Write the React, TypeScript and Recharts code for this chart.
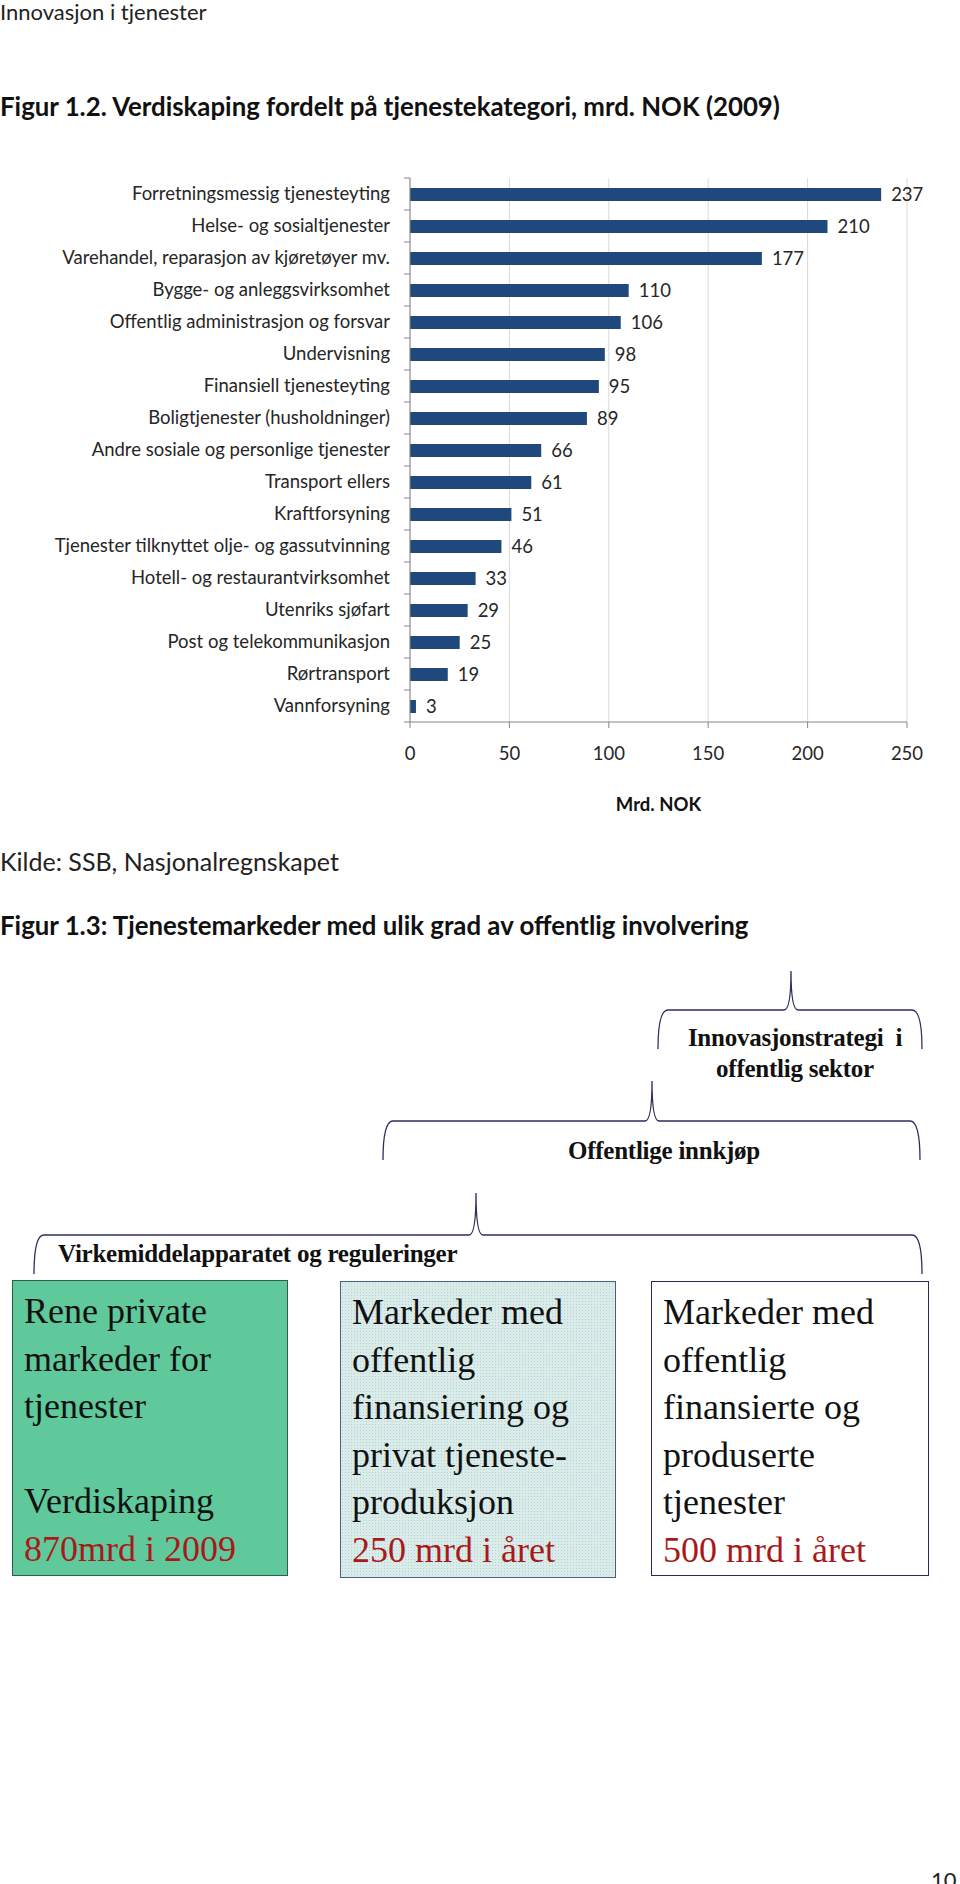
import React from "react";
import { Bar, BarChart, CartesianGrid, LabelList, XAxis, YAxis } from "recharts";

const categories = [
  "Forretningsmessig tjenesteyting",
  "Helse- og sosialtjenester",
  "Varehandel, reparasjon av kjøretøyer mv.",
  "Bygge- og anleggsvirksomhet",
  "Offentlig administrasjon og forsvar",
  "Undervisning",
  "Finansiell tjenesteyting",
  "Boligtjenester (husholdninger)",
  "Andre sosiale og personlige tjenester",
  "Transport ellers",
  "Kraftforsyning",
  "Tjenester tilknyttet olje- og gassutvinning",
  "Hotell- og restaurantvirksomhet",
  "Utenriks sjøfart",
  "Post og telekommunikasjon",
  "Rørtransport",
  "Vannforsyning",
];

const values = [237, 210, 177, 110, 106, 98, 95, 89, 66, 61, 51, 46, 33, 29, 25, 19, 3];

const xTicks = [0, 50, 100, 150, 200, 250];

const data = categories.map((name, i) => ({ name, value: values[i] }));

const sans = "Lato, 'Open Sans', sans-serif";
const serif = "'Liberation Serif', 'DejaVu Serif', serif";
const braceColor = "#2b2e5e";
const red = "#a81a1a";
const chartFont = 18.5;

function CategoryTick(props: any) {
  const { x, y, payload, index } = props;
  const half = payload && payload.offset ? payload.offset : 16;
  return (
    <g>
      <line x1={x - 6} x2={x} y1={y - half} y2={y - half} stroke="#868686" />
      {index === categories.length - 1 && (
        <line x1={x - 6} x2={x} y1={y + half} y2={y + half} stroke="#868686" />
      )}
      <text x={x - 20} y={y} dy="0.35em" textAnchor="end" fill="#262626" fontSize={chartFont}>
        {payload.value}
      </text>
    </g>
  );
}

function brace(x0: number, x1: number, xm: number, yH: number, yE: number, yP: number) {
  return `M ${x0} ${yE} Q ${x0} ${yH} ${x0 + 10} ${yH} L ${xm - 7} ${yH} Q ${xm} ${yH} ${xm} ${yP} Q ${xm} ${yH} ${xm + 7} ${yH} L ${x1 - 10} ${yH} Q ${x1} ${yH} ${x1} ${yE}`;
}

const textAbs = (top: number, left: number, extra: React.CSSProperties = {}): React.CSSProperties => ({
  position: "absolute",
  top,
  left,
  whiteSpace: "nowrap",
  ...extra,
});

const braceText: React.CSSProperties = {
  fontFamily: serif,
  fontWeight: 700,
  fontSize: 25,
  lineHeight: "30px",
  color: "#111",
  letterSpacing: "-0.25px",
};

function Box(props: { left: number; top: number; width: number; height: number; style: React.CSSProperties; lines: { t: string; red?: boolean }[] }) {
  return (
    <div
      style={{
        position: "absolute",
        left: props.left,
        top: props.top,
        width: props.width,
        height: props.height,
        boxSizing: "border-box",
        paddingTop: 7,
        paddingLeft: 11,
        fontFamily: serif,
        fontSize: 36,
        lineHeight: "47.5px",
        color: "#111",
        ...props.style,
      }}
    >
      {props.lines.map((l, i) => (
        <div key={i} style={{ color: l.red ? red : "#111", height: 47.5, whiteSpace: "nowrap" }}>
          {l.t}
        </div>
      ))}
    </div>
  );
}

export default function App() {
  return (
    <div style={{ position: "absolute", left: 0, top: 0, width: 960, height: 1884, background: "#fff", overflow: "hidden", fontFamily: sans }}>
      <div style={textAbs(0, 0, { fontSize: 22, lineHeight: "23px", color: "#222" })}>Innovasjon i tjenester</div>
      <div style={textAbs(90, 0, { fontSize: 25.8, lineHeight: "32px", fontWeight: 700, color: "#111" })}>
        Figur 1.2. Verdiskaping fordelt på tjenestekategori, mrd. NOK (2009)
      </div>

      <div style={{ position: "absolute", left: 0, top: 160 }}>
        <BarChart
          width={960}
          height={662}
          data={data}
          layout="vertical"
          margin={{ top: 18, right: 53, bottom: 0, left: 0 }}
          style={{ fontFamily: sans }}
        >
          <CartesianGrid horizontal={false} stroke="#d9d9d9" yAxisId="cat" />
          <XAxis
            type="number"
            domain={[0, 250]}
            ticks={xTicks}
            tickSize={6}
            tickMargin={19}
            stroke="#868686"
            tick={{ fill: "#262626", fontSize: chartFont }}
            height={100}
            label={{ value: "Mrd. NOK", position: "insideBottom", offset: 11, fill: "#111", fontSize: chartFont, fontWeight: 700 }}
          />
          <YAxis
            yAxisId="cat"
            type="category"
            dataKey="name"
            width={410}
            tickSize={0}
            tickMargin={0}
            tickLine={false}
            stroke="#868686"
            interval={0}
            tick={<CategoryTick />}
          />
          <Bar yAxisId="cat" dataKey="value" fill="#1f497d" barSize={13} isAnimationActive={false}>
            <LabelList dataKey="value" position="right" offset={10} fill="#262626" fontSize={chartFont} />
          </Bar>
        </BarChart>
      </div>

      <div style={textAbs(845, 0, { fontSize: 25, lineHeight: "32px", color: "#222" })}>Kilde: SSB, Nasjonalregnskapet</div>
      <div style={textAbs(909, 0, { fontSize: 25.8, lineHeight: "32px", fontWeight: 700, color: "#111" })}>
        Figur 1.3: Tjenestemarkeder med ulik grad av offentlig involvering
      </div>

      <svg width={960} height={1884} style={{ position: "absolute", left: 0, top: 0 }}>
        <path d={brace(658, 922, 791, 1010, 1049, 971)} fill="none" stroke={braceColor} strokeWidth={1.3} />
        <path d={brace(383, 920, 652, 1121, 1160, 1081)} fill="none" stroke={braceColor} strokeWidth={1.3} />
        <path d={brace(34, 922, 476, 1235, 1274, 1193)} fill="none" stroke={braceColor} strokeWidth={1.3} />
      </svg>

      <div style={{ position: "absolute", left: 675, width: 240, top: 1022, textAlign: "center", ...braceText, lineHeight: "31px" }}>
        <div>Innovasjonstrategi&nbsp; i</div>
        <div>offentlig sektor</div>
      </div>
      <div style={textAbs(1136, 564, { width: 200, textAlign: "center", ...braceText })}>Offentlige innkjøp</div>
      <div style={textAbs(1239, 58, braceText)}>Virkemiddelapparatet og reguleringer</div>

      <Box
        left={12}
        top={1280}
        width={276}
        height={296}
        style={{ background: "#5fc99c", border: "1.5px solid #2f5f4c" }}
        lines={[
          { t: "Rene private" },
          { t: "markeder for" },
          { t: "tjenester" },
          { t: "" },
          { t: "Verdiskaping" },
          { t: "870mrd i 2009", red: true },
        ]}
      />
      <Box
        left={340}
        top={1281}
        width={276}
        height={297}
        style={{
          backgroundColor: "#d9ecea",
          backgroundImage: "radial-gradient(#b7d2d0 0.8px, transparent 0.9px)",
          backgroundSize: "3px 3px",
          border: "1.5px solid #4d5d7c",
        }}
        lines={[
          { t: "Markeder med" },
          { t: "offentlig" },
          { t: "finansiering og" },
          { t: "privat tjeneste-" },
          { t: "produksjon" },
          { t: "250 mrd i året", red: true },
        ]}
      />
      <Box
        left={651}
        top={1281}
        width={278}
        height={295}
        style={{ background: "#fff", border: "1.5px solid #25285a" }}
        lines={[
          { t: "Markeder med" },
          { t: "offentlig" },
          { t: "finansierte og" },
          { t: "produserte" },
          { t: "tjenester" },
          { t: "500 mrd i året", red: true },
        ]}
      />

      <div style={textAbs(1866, 931, { fontSize: 22, lineHeight: "28px", color: "#222" })}>10</div>
    </div>
  );
}
